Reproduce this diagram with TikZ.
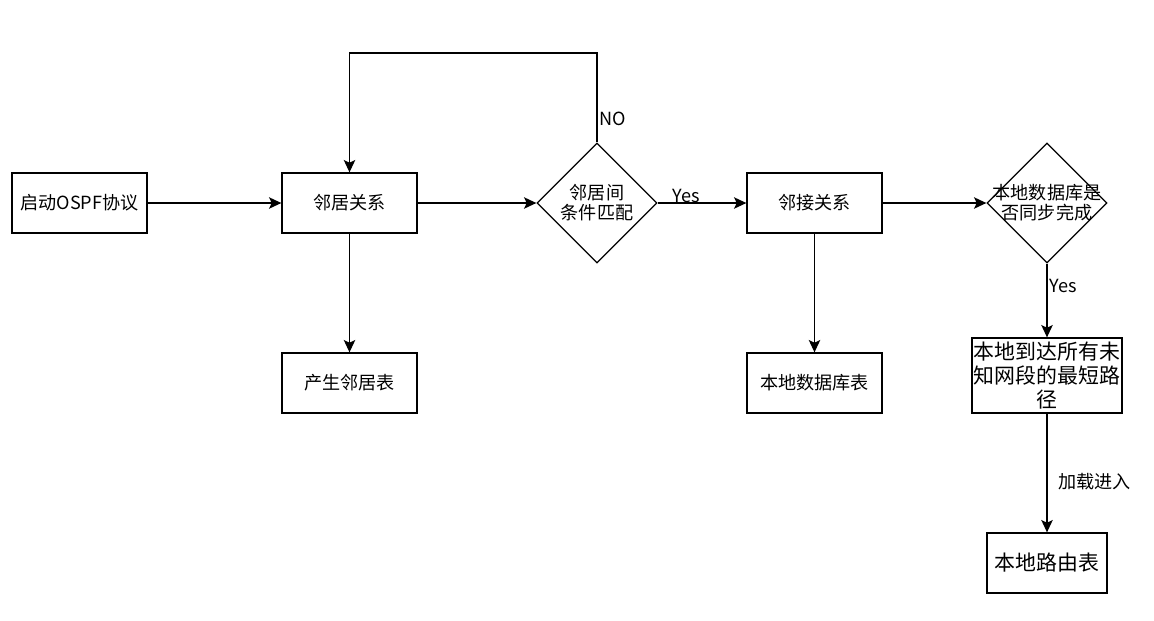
\documentclass[tikz,border=0pt]{standalone}
\usepackage{fontspec}
\setmainfont{Noto Sans CJK SC}
\usetikzlibrary{shapes.geometric, arrows.meta}

\begin{document}
\begin{tikzpicture}[x=0.02cm, y=-0.02cm, line width=0.75pt,
  box/.style={draw, minimum width=2.7cm, minimum height=1.2cm, inner sep=0pt,
    font=\fontsize{10.3}{11.4}\selectfont},
  bigbox/.style={draw, align=center, inner sep=0pt,
    font=\fontsize{11.9}{13.7}\selectfont},
  decision/.style={draw, diamond, minimum width=2.4cm, minimum height=2.4cm, inner sep=0pt},
  txt/.style={align=center, inner sep=0pt, font=\fontsize{10.3}{11.4}\selectfont},
  lbl/.style={inner sep=1pt, font=\fontsize{10.3}{11.4}\selectfont},
  arr/.style={-{Stealth[length=7pt, width=6.5pt, inset=1.5pt]}}]
\useasboundingbox (0,0) rectangle (1154,620);

% top row
\node[box] (start) at (79.5,203) {启动OSPF协议};
\node[box] (nbr) at (349.5,203) {邻居关系};
\node[decision] (match) at (597,203) {};
\node[txt] (matchtext) at (597,203) {邻居间\\条件匹配};
\node[box] (adj) at (814.5,203) {邻接关系};
\node[decision] (sync) at (1047,203) {};
\node[txt] (synctext) at (1047,203) {本地数据库是\\否同步完成};

% lower nodes
\node[box] (nbrtab) at (349.5,383) {产生邻居表};
\node[box] (dbtab) at (814.5,383) {本地数据库表};
\node[bigbox, minimum width=3cm, minimum height=1.5cm] (spf) at (1047,375.5) {本地到达所有未\\知网段的最短路\\径};
\node[bigbox, minimum width=2.4cm, minimum height=1.2cm] (rib) at (1047,563) {本地路由表};
\coordinate (loop) at (349.5,53);

% connectors
\draw[arr] (start) -- (nbr);
\draw[arr] (nbr) -- (match);
\draw[arr] (match) -- node[lbl, above, inner sep=0pt, pos=0.32] {Yes} (adj);
\draw[arr] (match.north) -- node[lbl, right, pos=0.26] {NO} (match.north |- loop) -- (loop) -- (nbr.north);
\draw[arr] (adj) -- (sync);
\draw[arr] (sync) -- node[lbl, right, pos=0.3] {Yes} (spf);
\draw[arr] (nbr) -- (nbrtab);
\draw[arr] (adj) -- (dbtab);
\draw[arr] (spf) -- node[lbl, right=5pt, pos=0.57] {加载进入} (rib);
\end{tikzpicture}
\end{document}
